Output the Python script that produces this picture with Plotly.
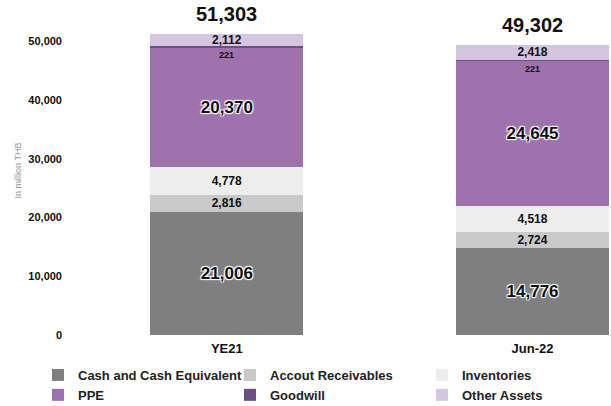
import plotly.graph_objects as go

categories = ["YE21", "Jun-22"]
cash = [21006, 14776]
receivables = [2816, 2724]
inventories = [4778, 4518]
ppe = [20370, 24645]
goodwill = [221, 221]
other = [2112, 2418]
y_ticks = [0, 10000, 20000, 30000, 40000, 50000]
y_tick_labels = ["0", "10,000", "20,000", "30,000", "40,000", "50,000"]

FONT = "Liberation Sans, Arial, sans-serif"
SHADOW = "1px 1px 1px #fff, -1px -1px 1px #fff, 1px -1px 1px #fff, -1px 1px 1px #fff"

series = [
    ("Cash and Cash Equivalent", cash, "#7f7f7f", 17, True),
    ("Accout Receivables", receivables, "#c9c9c9", 12, False),
    ("Inventories", inventories, "#ededed", 12, False),
    ("PPE", ppe, "#9f72ae", 17, True),
    ("Goodwill", goodwill, "#6d4f85", 9, False),
    ("Other Assets", other, "#d5c6e0", 12, False),
]

fig = go.Figure()
for name, vals, color, size, shadow in series:
    show_text = name != "Goodwill"
    fig.add_trace(go.Bar(
        x=categories, y=vals, name=name,
        marker=dict(color=color, line=dict(width=0)),
        width=0.5,
        text=[f"<b>{v:,}</b>" for v in vals] if show_text else None,
        textposition="inside" if show_text else "none",
        insidetextanchor="middle",
        textangle=0,
        constraintext="none",
        textfont=dict(family=FONT, size=size, color="#111",
                      shadow=SHADOW if shadow else "none"),
        hoverinfo="skip",
    ))

totals = [sum(v) for v in zip(cash, receivables, inventories, ppe, goodwill, other)]
for c, t in zip(categories, totals):
    fig.add_annotation(x=c, y=t, text=f"<b>{t:,}</b>", showarrow=False,
                       yanchor="bottom", yshift=7,
                       font=dict(family=FONT, size=20, color="#111"))

# goodwill labels just below the thin goodwill band
for i, c in enumerate(categories):
    base = cash[i] + receivables[i] + inventories[i] + ppe[i]
    fig.add_annotation(x=c, y=base, text=f"<b>{goodwill[i]:,}</b>", showarrow=False,
                       yanchor="top", yshift=-1,
                       font=dict(family=FONT, size=9, color="#111"))

fig.update_layout(
    barmode="stack",
    width=611, height=406,
    margin=dict(l=74, r=2, t=6, b=71, autoexpand=False),
    paper_bgcolor="white", plot_bgcolor="white",
    font=dict(family=FONT, color="#111"),
    showlegend=True,
    legend=dict(
        orientation="h", traceorder="normal",
        xref="paper", yref="paper",
        x=-0.0673, y=-0.076, xanchor="left", yanchor="top",
        entrywidth=147, entrywidthmode="pixels",
        font=dict(family=FONT, size=13, color="#222", weight="bold"),
        itemclick=False, itemdoubleclick=False,
    ),
    xaxis=dict(
        range=[-0.5, 1.25], showgrid=False, showline=False, zeroline=False,
        automargin=False,
        tickfont=dict(family=FONT, size=13, color="#111", weight="bold"),
        ticklabelstandoff=4,
    ),
    yaxis=dict(
        range=[0, 56000], showgrid=False, showline=False, zeroline=False,
        automargin=False,
        tickmode="array", tickvals=y_ticks, ticktext=y_tick_labels,
        tickfont=dict(family=FONT, size=11, color="#111", weight="bold"),
        ticklabelstandoff=11,
        title=dict(text="In million THB", font=dict(family=FONT, size=9, color="#999"),
                   standoff=5),
    ),
)

fig.write_html("out.html", config={"displayModeBar": False},
               post_script="document.body.style.margin='0';")
